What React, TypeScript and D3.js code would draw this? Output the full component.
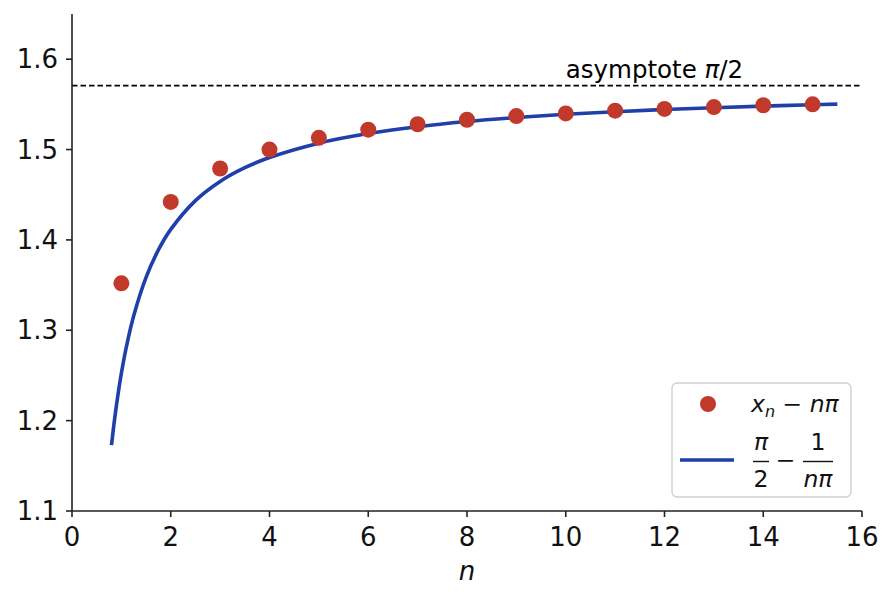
import React from "react";
import * as d3 from "d3";

// Data: x_n - n*pi (roots of tan x = x)
const nValues = [1, 2, 3, 4, 5, 6, 7, 8, 9, 10, 11, 12, 13, 14, 15];
const rootOffsets = [1.352, 1.442, 1.479, 1.5, 1.513, 1.522, 1.528, 1.533, 1.537, 1.540, 1.543, 1.545, 1.547, 1.549, 1.550];

// Curve samples pi/2 - 1/(n pi)
const curveN = [0.8, 0.85, 0.9, 0.95, 1.0, 1.1, 1.25, 1.5, 1.75, 2, 2.5, 3, 3.5, 4, 5, 6, 7, 8, 9, 10, 11, 12, 13, 14, 15, 15.5];
const curveY = [1.1729, 1.1963, 1.2171, 1.2357, 1.2525, 1.2814, 1.3161, 1.3586, 1.3889, 1.4116, 1.4435, 1.4647, 1.4799, 1.4912, 1.5071, 1.5177, 1.5253, 1.5310, 1.5354, 1.5390, 1.5419, 1.5443, 1.5463, 1.5481, 1.5496, 1.5503];

const asymptote = 1.5708;
const xTicks = [0, 2, 4, 6, 8, 10, 12, 14, 16];
const yTicks = [1.1, 1.2, 1.3, 1.4, 1.5, 1.6];

const W = 895;
const H = 603;
const FONT = "DejaVu Sans";
const RED = "#c0392b";
const BLUE = "#1f3fa9";

export default function App() {
  const x = d3.scaleLinear().domain([0, 16]).range([72, 862]);
  const y = d3.scaleLinear().domain([1.1, 1.65]).range([511, 14]);
  const line = d3
    .line<number>()
    .x((_, i) => x(curveN[i]))
    .y((d) => y(d))
    .curve(d3.curveCatmullRom);

  const tickFs = 26;
  const annFs = 24.5;
  const legFs = 23.5;

  // legend geometry
  const lx = 672, ly = 383, lw = 179, lh = 114;

  return (
    <svg
      width={W}
      height={H}
      style={{ position: "absolute", left: 0, top: 0, background: "#fff" }}
      fontFamily={FONT}
    >
      <rect x={0} y={0} width={W} height={H} fill="#fff" />
      {/* asymptote */}
      <line
        x1={x(0)}
        x2={x(16)}
        y1={y(asymptote)}
        y2={y(asymptote)}
        stroke="#000"
        strokeWidth={1.8}
        strokeDasharray="5.5,3"
      />
      <text x={x(10)} y={y(asymptote) - 8} fontSize={annFs} fill="#000">
        asymptote <tspan fontStyle="italic">π</tspan>/2
      </text>

      {/* curve */}
      <path d={line(curveY) || ""} fill="none" stroke={BLUE} strokeWidth={3.6} />

      {/* points */}
      {nValues.map((n, i) => (
        <circle key={n} cx={x(n)} cy={y(rootOffsets[i])} r={8} fill={RED} />
      ))}

      {/* axes */}
      <line x1={x(0)} x2={x(16)} y1={511} y2={511} stroke="#222" strokeWidth={1.6} />
      <line x1={72} x2={72} y1={14} y2={511} stroke="#222" strokeWidth={1.6} />
      {xTicks.map((t) => (
        <g key={t}>
          <line x1={x(t)} x2={x(t)} y1={511} y2={517} stroke="#222" strokeWidth={1.6} />
          <text x={x(t)} y={546} textAnchor="middle" fontSize={tickFs} fill="#111">
            {t}
          </text>
        </g>
      ))}
      {yTicks.map((t) => (
        <g key={t}>
          <line x1={66} x2={72} y1={y(t)} y2={y(t)} stroke="#222" strokeWidth={1.6} />
          <text x={58} y={y(t) + 9} textAnchor="end" fontSize={tickFs} fill="#111">
            {t.toFixed(1)}
          </text>
        </g>
      ))}
      <text x={467} y={580} textAnchor="middle" fontSize={tickFs} fontStyle="italic" fill="#111">
        n
      </text>

      {/* legend */}
      <rect
        x={lx}
        y={ly}
        width={lw}
        height={lh}
        rx={5}
        fill="#fff"
        fillOpacity={0.85}
        stroke="#d0d0d0"
        strokeWidth={1.4}
      />
      <circle cx={708} cy={404} r={8} fill={RED} />
      <text x={751} y={412} fontSize={legFs} fill="#111">
        <tspan fontStyle="italic">x</tspan>
        <tspan fontStyle="italic" fontSize={16} dy={5}>n</tspan>
        <tspan dy={-5}> − </tspan>
        <tspan fontStyle="italic">nπ</tspan>
      </text>
      <line x1={680} x2={734} y1={460} y2={460} stroke={BLUE} strokeWidth={3.6} />
      <text x={761} y={450} textAnchor="middle" fontSize={legFs} fontStyle="italic" fill="#111">
        π
      </text>
      <line x1={753} x2={769} y1={461.5} y2={461.5} stroke="#111" strokeWidth={1.4} />
      <text x={761} y={487} textAnchor="middle" fontSize={legFs} fill="#111">
        2
      </text>
      <text x={785.5} y={468} textAnchor="middle" fontSize={legFs} fill="#111">
        −
      </text>
      <text x={818} y={450} textAnchor="middle" fontSize={legFs} fill="#111">
        1
      </text>
      <line x1={803} x2={833} y1={461.5} y2={461.5} stroke="#111" strokeWidth={1.4} />
      <text x={818} y={487} textAnchor="middle" fontSize={legFs} fontStyle="italic" fill="#111">
        nπ
      </text>
    </svg>
  );
}
